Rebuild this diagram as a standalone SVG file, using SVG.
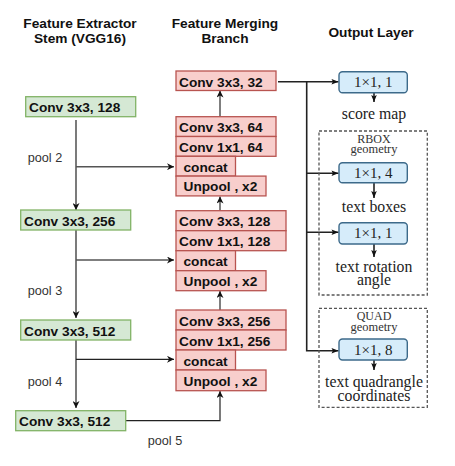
<svg xmlns="http://www.w3.org/2000/svg" width="455" height="466" viewBox="0 0 455 466">
<style>
.title{font-family:"Liberation Sans",Arial,sans-serif;font-weight:bold;font-size:13.7px;fill:#111;text-anchor:middle}
.lbl{font-family:"Liberation Sans",Arial,sans-serif;font-weight:bold;font-size:13.7px;fill:#111}
.pool{font-family:"Liberation Sans",Arial,sans-serif;font-size:12.7px;fill:#333}
.g{fill:#d5e8d4;stroke:#82b366;stroke-width:1.3}
.r{fill:#f8cecc;stroke:#b85450;stroke-width:1.3}
.b{fill:#d6ecfa;stroke:#3d6a8a;stroke-width:1.4}
.bt{font-family:"Liberation Serif","Times New Roman",serif;font-size:15px;fill:#222;text-anchor:middle}
.ot{font-family:"Liberation Serif","Times New Roman",serif;font-size:15.8px;fill:#222;text-anchor:middle}
.st{font-family:"Liberation Serif","Times New Roman",serif;font-size:12px;fill:#333;text-anchor:middle}
.dash{fill:none;stroke:#555;stroke-width:1.3;stroke-dasharray:3 2}
.c{fill:none;stroke:#222;stroke-width:1.2}
.cg{fill:none;stroke:#555;stroke-width:1.5}
.co{fill:none;stroke:#222;stroke-width:1.6}
</style>
<defs>
<marker id="a" viewBox="0 0 10 10" refX="10" refY="5" markerWidth="7" markerHeight="7" markerUnits="userSpaceOnUse" orient="auto">
<path d="M0,0 L10,5 L0,10 L3,5 Z" fill="#111"/>
</marker>
<marker id="ao" viewBox="0 0 10 10" refX="10" refY="5" markerWidth="9" markerHeight="7" markerUnits="userSpaceOnUse" orient="auto">
<path d="M0,1 L10,5 L0,9 L2,5 Z" fill="#111"/>
</marker>
</defs>

<text class="title" x="80" y="27.5">Feature Extractor</text>
<text class="title" x="80" y="43">Stem (VGG16)</text>
<text class="title" x="225" y="27.5">Feature Merging</text>
<text class="title" x="225" y="43">Branch</text>
<text class="title" x="371" y="36.5">Output Layer</text>

<g id="connectors">
<path class="c" d="M76,120 V210" marker-end="url(#a)"/>
<path class="cg" d="M76,166.7 H174" marker-end="url(#a)"/>
<path class="c" d="M76,230 V318" marker-end="url(#a)"/>
<path class="cg" d="M76,260 H174" marker-end="url(#a)"/>
<path class="c" d="M76,340 V408" marker-end="url(#a)"/>
<path class="c" d="M76,359.3 H174" marker-end="url(#a)"/>
<path class="c" d="M125.7,420.7 H220 V391" marker-end="url(#a)"/>
<path class="cg" d="M220,310 V291" marker-end="url(#a)"/>
<path class="cg" d="M220,210.7 V196.5" marker-end="url(#a)"/>
<path class="cg" d="M220,116.7 V90.5" marker-end="url(#a)"/>
<path class="co" d="M278,81.7 H338.5" marker-end="url(#ao)"/>
<path class="co" d="M306.7,81.7 V350.7 H338.5" marker-end="url(#ao)"/>
<path class="co" d="M306.7,173.3 H338.5" marker-end="url(#ao)"/>
<path class="co" d="M306.7,232.3 H338.5" marker-end="url(#ao)"/>
<path class="co" d="M374,92.7 V102" marker-end="url(#ao)"/>
<path class="co" d="M374,182.7 V198" marker-end="url(#ao)"/>
<path class="co" d="M374,244 V257" marker-end="url(#ao)"/>
<path class="co" d="M374,360 V370" marker-end="url(#ao)"/>
</g>

<text class="pool" x="27.7" y="161.5">pool 2</text>
<text class="pool" x="27.7" y="295">pool 3</text>
<text class="pool" x="27.7" y="385.5">pool 4</text>
<text class="pool" x="165" y="445" text-anchor="middle">pool 5</text>

<g id="g128"><rect class="g" x="25.7" y="96.7" width="110" height="20"/><text class="lbl" x="29" y="112">Conv 3x3, 128</text></g>
<g id="g256"><rect class="g" x="20.7" y="210" width="110" height="20"/><text class="lbl" x="24" y="225.5">Conv 3x3, 256</text></g>
<g id="g512"><rect class="g" x="20.7" y="320" width="110" height="20"/><text class="lbl" x="24" y="335.5">Conv 3x3, 512</text></g>
<g id="g512b"><rect class="g" x="15.7" y="410.7" width="110" height="20"/><text class="lbl" x="19" y="426">Conv 3x3, 512</text></g>

<g id="r32"><rect class="r" x="176" y="71" width="100" height="19.5"/><text class="lbl" x="179" y="86.5">Conv 3x3, 32</text></g>

<g id="m1">
<rect class="r" x="176" y="116.7" width="100" height="19.8"/><text class="lbl" x="179" y="132">Conv 3x3, 64</text>
<rect class="r" x="176" y="136.5" width="100" height="19.8"/><text class="lbl" x="179" y="151.8">Conv 1x1, 64</text>
<rect class="r" x="176" y="156.3" width="59.5" height="19.8"/><text class="lbl" x="183.5" y="171.6">concat</text>
<rect class="r" x="176" y="176.1" width="90" height="19.8"/><text class="lbl" x="183.5" y="191.4">Unpool , x2</text>
</g>
<g id="m2">
<rect class="r" x="176" y="210.7" width="110" height="20"/><text class="lbl" x="179" y="226">Conv 3x3, 128</text>
<rect class="r" x="176" y="230.7" width="110" height="20"/><text class="lbl" x="179" y="246">Conv 1x1, 128</text>
<rect class="r" x="176" y="250.7" width="59.5" height="20"/><text class="lbl" x="183.5" y="266">concat</text>
<rect class="r" x="176" y="270.7" width="90" height="20"/><text class="lbl" x="183.5" y="286">Unpool , x2</text>
</g>
<g id="m3">
<rect class="r" x="176" y="310" width="110" height="20"/><text class="lbl" x="179" y="325.5">Conv 3x3, 256</text>
<rect class="r" x="176" y="330" width="110" height="20"/><text class="lbl" x="179" y="345.5">Conv 1x1, 256</text>
<rect class="r" x="176" y="350" width="59.5" height="20"/><text class="lbl" x="183.5" y="365.5">concat</text>
<rect class="r" x="176" y="370" width="90" height="20.7"/><text class="lbl" x="183.5" y="385.5">Unpool , x2</text>
</g>

<g id="rbox"><rect class="dash" x="319" y="131" width="108.3" height="164"/>
<text class="st" x="374" y="142.5" font-size="11.5">RBOX</text>
<text class="st" x="374" y="153" font-size="10" textLength="47" lengthAdjust="spacingAndGlyphs">geometry</text></g>
<g id="quad"><rect class="dash" x="319" y="308.3" width="108.3" height="99"/>
<text class="st" x="374" y="320" font-size="11.5">QUAD</text>
<text class="st" x="374" y="330.5" font-size="10" textLength="47" lengthAdjust="spacingAndGlyphs">geometry</text></g>

<g id="o1"><rect class="b" x="339" y="71.7" width="68.3" height="21" rx="3.5"/><text class="bt" x="373.2" y="87">1×1, 1</text></g>
<text class="ot" x="374" y="119">score map</text>
<g id="o2"><rect class="b" x="339" y="162.7" width="68.3" height="20" rx="3.5"/><text class="bt" x="373.2" y="177.7">1×1, 4</text></g>
<text class="ot" x="374" y="211.5">text boxes</text>
<g id="o3"><rect class="b" x="339" y="222.7" width="68.3" height="21.3" rx="3.5"/><text class="bt" x="373.2" y="238">1×1, 1</text></g>
<text class="ot" x="374" y="271.5">text rotation</text>
<text class="ot" x="374" y="285">angle</text>
<g id="o4"><rect class="b" x="339" y="339" width="68.3" height="21" rx="3.5"/><text class="bt" x="373.2" y="354.5">1×1, 8</text></g>
<text class="ot" x="374" y="386.5">text quadrangle</text>
<text class="ot" x="374" y="400.5">coordinates</text>
</svg>
